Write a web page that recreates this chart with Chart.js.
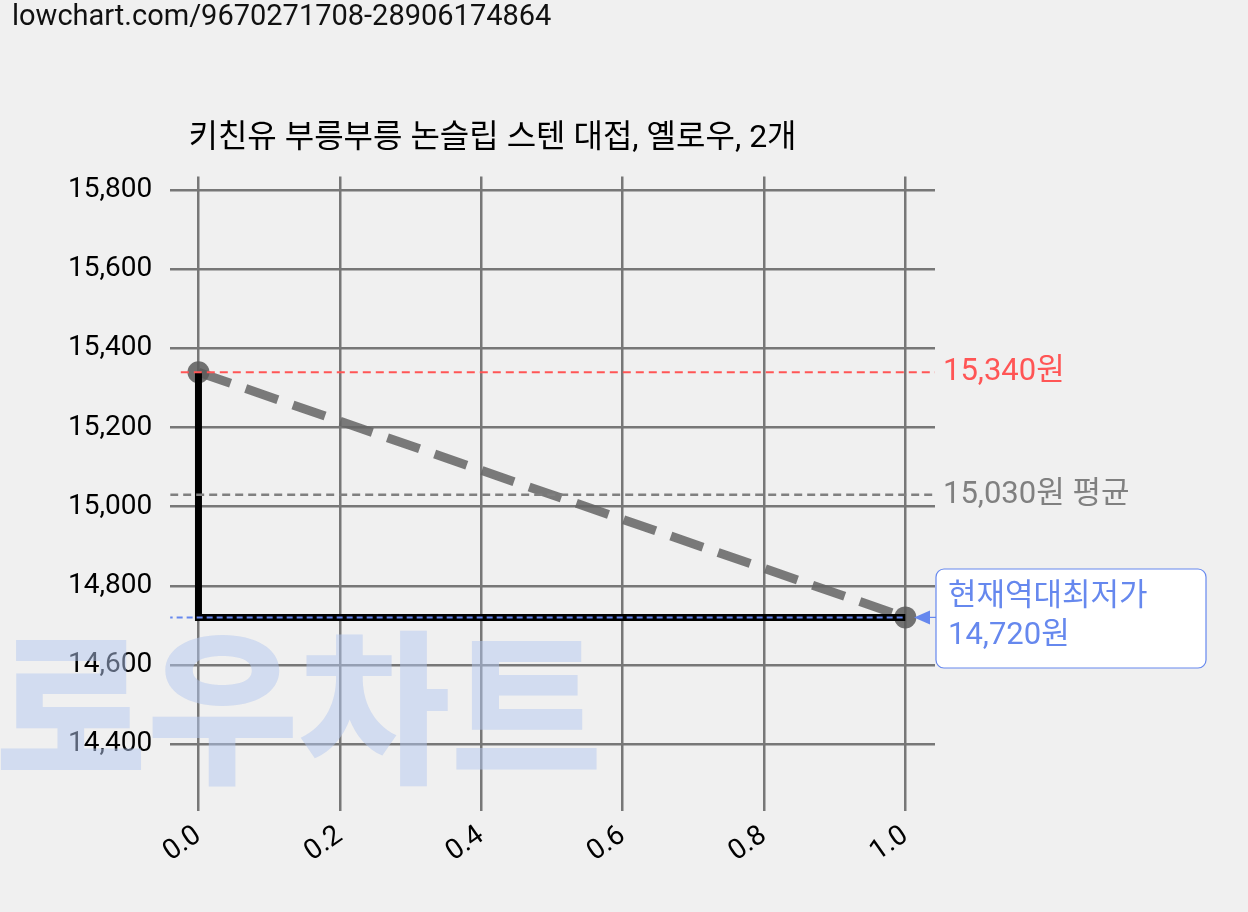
<!DOCTYPE html>
<html><head><meta charset="utf-8">
<script src="https://cdn.jsdelivr.net/npm/chart.js@4"></script>
<style>
html,body{margin:0;background:#f0f0f0;}
#wrap{position:relative;width:1248px;height:912px;}
#url{position:absolute;left:12px;top:-2px;font:29px Roboto,'Noto Sans CJK KR',sans-serif;color:#111;}
</style></head><body>
<div id="wrap"><div id="url">lowchart.com/9670271708-28906174864</div><canvas id="c" width="1248" height="912"></canvas></div>
<script>
const chartTitle = '키친유 부릉부릉 논슬립 스텐 대접, 옐로우, 2개';
const stepX = [0, 0, 1];
const stepY = [15340, 14720, 14720];
const trendX = [0, 1];
const trendY = [15340, 14720];
const maxPrice = 15340;
const avgPrice = 15030;
const minPrice = 14720;
const font = "Roboto,'Noto Sans CJK KR',sans-serif";

const pts = (xs, ys) => xs.map((x, i) => ({x: x, y: ys[i]}));

const overlay = {
  id: 'overlay',
  beforeDatasetsDraw(chart) {
    const c = chart.ctx;
    c.save();
    c.font = "900 165px 'Noto Sans CJK KR',sans-serif";
    c.fillStyle = 'rgba(180,200,240,0.5)';
    c.textBaseline = 'alphabetic';
    c.fillText('로우차트', -5, 770);
    c.restore();
  },
  afterDatasetsDraw(chart) {
    const c = chart.ctx, xs = chart.scales.x, ys = chart.scales.y;
    const r = xs.right + 8;
    c.save();
    c.font = '31px ' + font;
    c.textBaseline = 'middle';
    c.fillStyle = '#ff5555';
    c.fillText('15,340원', r, ys.getPixelForValue(maxPrice));
    c.fillStyle = '#808080';
    c.fillText('15,030원 평균', r, ys.getPixelForValue(avgPrice));
    const yb = ys.getPixelForValue(minPrice);
    c.fillStyle = '#fff';
    c.strokeStyle = '#6688ee';
    c.lineWidth = 1.2;
    c.beginPath();
    c.roundRect(936, 569, 270, 99, 8);
    c.fill(); c.stroke();
    c.fillStyle = '#6688ee';
    c.fillText('현재역대최저가', 948, 597);
    c.fillText('14,720원', 948, 636);
    c.beginPath();
    c.moveTo(936, yb); c.lineTo(918, yb); c.stroke();
    c.beginPath();
    c.moveTo(914, yb); c.lineTo(930, yb - 7); c.lineTo(930, yb + 7); c.closePath(); c.fill();
    c.restore();
  }
};

new Chart(document.getElementById('c'), {
  type: 'scatter',
  data: {
    datasets: [
      {data: pts([-0.025, 1.042], [maxPrice, maxPrice]), showLine: true, borderColor: '#ff5555', borderWidth: 2, borderDash: [8, 5], pointRadius: 0},
      {data: pts([-0.04, 1.042], [avgPrice, avgPrice]), showLine: true, borderColor: '#808080', borderWidth: 2.5, borderDash: [8, 5], pointRadius: 0},
      {data: pts([-0.045, 1.0], [minPrice, minPrice]), showLine: true, borderColor: '#6688ee', borderWidth: 2, borderDash: [6, 4], pointRadius: 0},
      {data: pts(stepX, stepY), showLine: true, borderColor: '#000', borderWidth: 7, pointRadius: 0},
      {data: pts(trendX, trendY), showLine: true, borderColor: 'rgba(100,100,100,0.85)', borderWidth: 9, borderDash: [34, 16], pointRadius: 11, pointBackgroundColor: 'rgba(90,90,90,0.85)', pointBorderWidth: 0}
    ]
  },
  options: {
    responsive: false, animation: false,
    layout: {padding: {top: 120, right: 313, left: 50, bottom: 35}},
    plugins: {
      legend: {display: false}, tooltip: {enabled: false},
      title: {display: true, text: chartTitle, color: '#000', font: {family: font, size: 32, weight: 'normal'}, padding: {bottom: 18}}
    },
    scales: {
      x: {
        type: 'linear', min: -0.04, max: 1.042,
        afterBuildTicks: s => { s.ticks = [0, 0.2, 0.4, 0.6, 0.8, 1.0].map(v => ({value: v})); },
        ticks: {callback: v => v.toFixed(1), maxRotation: 35, minRotation: 35, color: '#000', font: {family: font, size: 28}, padding: 8},
        grid: {color: '#777', lineWidth: 2.5, drawTicks: false},
        border: {display: false}
      },
      y: {
        min: 14230, max: 15835,
        afterBuildTicks: s => { s.ticks = [14400, 14600, 14800, 15000, 15200, 15400, 15600, 15800].map(v => ({value: v})); },
        ticks: {callback: v => v.toLocaleString('en-US'), color: '#000', font: {family: font, size: 28}, padding: 18},
        grid: {color: '#777', lineWidth: 2.5, drawTicks: false},
        border: {display: false}
      }
    }
  },
  plugins: [overlay]
});
</script>
</body></html>
